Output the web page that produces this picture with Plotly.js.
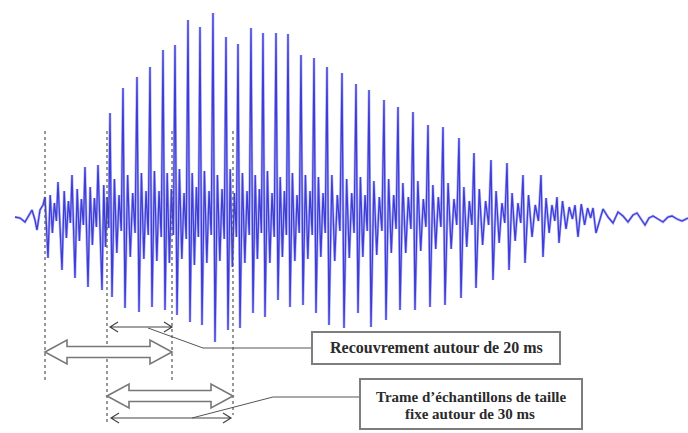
<!DOCTYPE html>
<html><head><meta charset="utf-8">
<script src="https://cdn.plot.ly/plotly-3.0.1.min.js"></script>
<style>html,body{margin:0;padding:0;background:#fff;} #chart{width:688px;height:433px;}</style>
</head><body><div id="chart"></div>
<script>
// Time axis in arbitrary sample units (≈127 units = 30 ms); amplitude in arbitrary units
const leadT = [15, 20, 25, 28, 32, 35, 37, 40, 43];
const leadA = [-4, -5, -9, -4, 3, -7, -17, 3, 8];

const pulseT   = [45,58,72,85,98,110,123,137,150,163,175,188,200,213,226,238,251,263,276,288,301,314,327,342,356,369,384,398,413,428,443,459,474,491,507,523,541,557,575,593];
const pulseTop = [16,31,38,46,48,100,125,136,146,163,168,193,186,200,176,169,185,180,180,179,158,155,146,140,129,123,113,106,101,88,86,75,60,53,50,38,38,16,8,5];
const botT     = [48,62,75,88,102,112,125,139,152,165,177,190,202,215,228,240,253,265,278,290,303,316,329,344,358,371,386,400,415,430,445,461,476,493,509,525,543,559,578,596];
const pulseBot = [-45,-57,-65,-74,-77,-84,-95,-99,-94,-97,-102,-109,-112,-129,-117,-115,-100,-104,-87,-94,-92,-100,-112,-115,-100,-114,-107,-97,-97,-94,-92,-85,-75,-67,-57,-50,-44,-30,-24,-20];
const ring1Hi  = [18,22,24,26,28,34,38,40,42,40,44,40,42,38,44,40,38,42,36,40,38,36,38,34,36,32,34,30,32,28,30,26,24,22,20,18,15,12,9,7];
const ring1Lo  = [-20,-25,-28,-32,-34,-40,-44,-46,-48,-50,-46,-52,-50,-48,-54,-50,-46,-50,-44,-48,-46,-44,-48,-45,-44,-42,-40,-40,-38,-36,-36,-34,-32,-30,-28,-24,-20,-16,-12,-9];
const ring2Hi  = [10,12,14,15,16,18,20,22,22,24,20,26,22,24,20,22,24,20,22,18,22,20,18,20,18,16,18,16,14,16,14,12,12,10,10,8,8,6,5,4];
const ring2Lo  = [-8,-10,-12,-14,-15,-18,-20,-22,-24,-22,-26,-24,-22,-26,-24,-22,-20,-24,-22,-20,-22,-20,-18,-20,-18,-18,-16,-16,-14,-14,-12,-12,-12,-10,-10,-8,-8,-6,-5,-4];

const tailT = [603,608,613,618,623,628,633,637,641,645,649,653,658,663,668,672,677,682,688];
const tailA = [4,-4,-10,1,-3,-9,-2,0,-6,-12,-5,-3,-6,-9,-4,-3,-6,-8,-5];

const frameStart = [45, 107];
const frameEnd   = [172, 233];
const labelOverlap = 'Recouvrement autour de 20 ms';
const labelFrame = ['Trame d\u2019échantillons de taille', 'fixe autour de 30 ms'];

// build waveform polyline
const wx = [], wy = [];
leadT.forEach((t, i) => { wx.push(t); wy.push(leadA[i]); });
const ringFrac = [0.22, 0.44, 0.64, 0.84];
for (let i = 0; i < pulseT.length; i++) {
  wx.push(pulseT[i]); wy.push(pulseTop[i]);
  wx.push(botT[i]); wy.push(pulseBot[i]);
  if (i < pulseT.length - 1) {
    const g = pulseT[i + 1] - botT[i];
    const vals = [ring1Hi[i], ring1Lo[i], ring2Hi[i], ring2Lo[i]];
    ringFrac.forEach((f, k) => { wx.push(botT[i] + g * f); wy.push(vals[k]); });
  }
}
tailT.forEach((t, i) => { wx.push(t); wy.push(tailA[i]); });

const waveHalo = {
  x: wx, y: wy, type: 'scatter', mode: 'lines',
  line: { color: 'rgba(120,120,240,0.55)', width: 2.6 },
  hoverinfo: 'skip'
};
const wave = {
  x: wx, y: wy, type: 'scatter', mode: 'lines',
  line: { color: 'rgb(62,62,215)', width: 1.3 },
  hoverinfo: 'skip'
};

function blockArrow(x0, x1, yc) {
  const hl = 22, hh = 12, sh = 5.5;
  return `M${x0},${yc} L${x0+hl},${yc+hh} L${x0+hl},${yc+sh} L${x1-hl},${yc+sh} L${x1-hl},${yc+hh} L${x1},${yc} L${x1-hl},${yc-hh} L${x1-hl},${yc-sh} L${x0+hl},${yc-sh} L${x0+hl},${yc-hh} Z`;
}
function thinArrow(x0, x1, yc) {
  const hl = 8, hh = 5;
  return `M${x0+hl},${yc+hh} L${x0},${yc} L${x0+hl},${yc-hh} M${x0},${yc} L${x1},${yc} M${x1-hl},${yc+hh} L${x1},${yc} L${x1-hl},${yc-hh}`;
}

const dashTop = 82;
const dashBottoms = [[-167, -167], [-212, -202]]; // [frame][start,end]
const shapes = [];
for (let f = 0; f < 2; f++) {
  shapes.push({type:'line', xref:'x', yref:'y', x0:frameStart[f], x1:frameStart[f], y0:dashTop, y1:dashBottoms[f][0], line:{color:'#555', width:1.2, dash:'dot'}});
  shapes.push({type:'line', xref:'x', yref:'y', x0:frameEnd[f], x1:frameEnd[f], y0:dashTop, y1:dashBottoms[f][1], line:{color:'#555', width:1.2, dash:'dot'}});
}
shapes.push({type:'path', xref:'x', yref:'y', path: thinArrow(frameStart[1]+3, frameEnd[0], -114), line:{color:'#444', width:1.2}});
shapes.push({type:'path', xref:'x', yref:'y', path: blockArrow(frameStart[0], frameEnd[0], -139), fillcolor:'#fff', line:{color:'#777', width:1.6}});
shapes.push({type:'path', xref:'x', yref:'y', path: blockArrow(frameStart[1], frameEnd[1], -183), fillcolor:'#fff', line:{color:'#777', width:1.6}});
shapes.push({type:'path', xref:'x', yref:'y', path: thinArrow(frameStart[1]+4, frameEnd[1]-2, -205), line:{color:'#444', width:1.2}});
shapes.push({type:'path', xref:'x', yref:'y', path:'M312,-135 L203,-135 L148,-115', line:{color:'#555', width:1}});
shapes.push({type:'path', xref:'x', yref:'y', path:'M360,-184 L273,-184 L192,-205', line:{color:'#555', width:1}});
shapes.push({type:'rect', xref:'x', yref:'y', x0:312, x1:560, y0:-119, y1:-151, fillcolor:'#fff', line:{color:'#7d7d7d', width:2}});
shapes.push({type:'rect', xref:'x', yref:'y', x0:360, x1:582, y0:-166, y1:-216, fillcolor:'#fff', line:{color:'#7d7d7d', width:2}});

const fam = '"Liberation Serif", "Times New Roman", serif';
const annotations = [
  {x:436, y:-134, xref:'x', yref:'y', text:'<b>'+labelOverlap+'</b>', showarrow:false, font:{family:fam, size:16, color:'#2b2b2b'}},
  {x:471, y:-184, xref:'x', yref:'y', text:'<b>'+labelFrame[0]+'</b>', showarrow:false, font:{family:fam, size:15, color:'#2b2b2b'}},
  {x:470, y:-201, xref:'x', yref:'y', text:'<b>'+labelFrame[1]+'</b>', showarrow:false, font:{family:fam, size:15, color:'#2b2b2b'}}
];

const layout = {
  width: 688, height: 433,
  margin: {l:0, r:0, t:0, b:0},
  paper_bgcolor: '#fff', plot_bgcolor: '#fff',
  showlegend: false,
  xaxis: {range:[0, 688], visible:false, fixedrange:true},
  yaxis: {range:[-220, 213], visible:false, fixedrange:true},
  shapes: shapes,
  annotations: annotations
};
Plotly.newPlot('chart', [waveHalo, wave], layout, {staticPlot:true, displayModeBar:false});
</script>
</body></html>
